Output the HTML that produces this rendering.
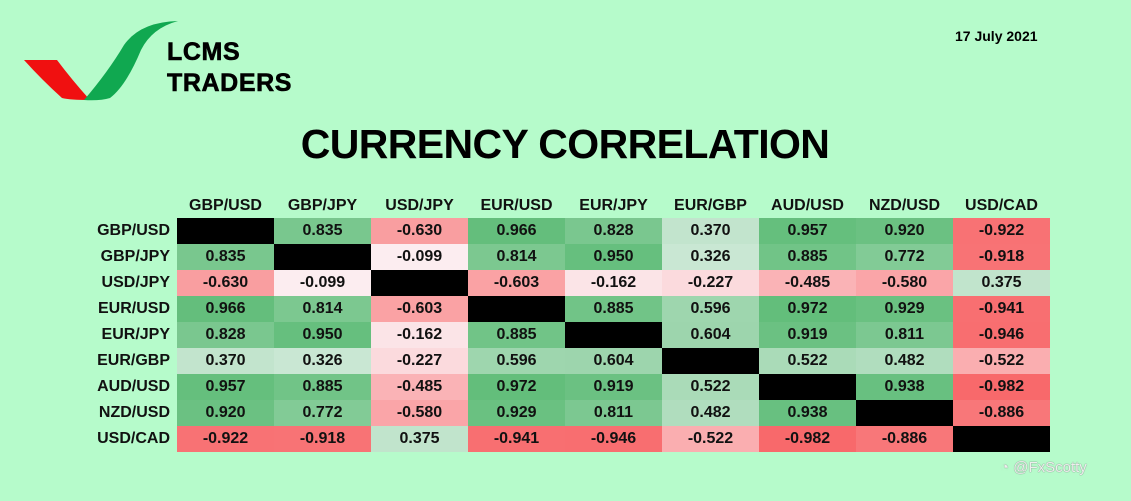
<!DOCTYPE html>
<html><head><meta charset="utf-8"><style>
body{margin:0;width:1131px;height:501px;background:#b6fbcb;font-family:"Liberation Sans",Arial,sans-serif;position:relative;overflow:hidden}
.abs{position:absolute}
.cell{position:absolute;width:97px;height:26px;line-height:26px;text-align:center;font-weight:bold;font-size:16px;color:#111}
.hdr{position:absolute;width:97px;text-align:center;font-weight:bold;font-size:16px;top:197px;color:#111}
.rl{position:absolute;width:160px;left:10px;text-align:right;font-weight:bold;font-size:16px;height:26px;line-height:26px;color:#111}
</style></head><body>
<svg class="abs" style="left:0;top:0" width="180" height="110">
<path d="M24 60 L57 60 Q72 80 90 100 Q70 100 62 98 Q42 80 24 60Z" fill="#f01010"/>
<path d="M84 100 Q108 72 124 45 Q140 22 178 21 Q152 28 141 50 Q126 86 110 98 Q100 101 84 100Z" fill="#10a850"/>
</svg>
<div class="abs" style="left:167px;top:37px;font-weight:bold;font-size:25px;line-height:31px;letter-spacing:0.6px;color:#000;-webkit-text-stroke:0.6px #000">LCMS<br>TRADERS</div>
<div class="abs" style="left:955px;top:28px;font-weight:bold;font-size:14px">17 July 2021</div>
<div class="abs" style="left:265px;width:600px;text-align:center;top:121px;font-weight:bold;font-size:41px;letter-spacing:-0.6px">CURRENCY CORRELATION</div>
<div class="abs" style="left:1000px;top:459px;font-size:15px;color:#eee;text-shadow:0 0 1px #555">◔ @FxScotty</div>
<div id="grid"></div>
<script>
const pairs=["GBP/USD","GBP/JPY","USD/JPY","EUR/USD","EUR/JPY","EUR/GBP","AUD/USD","NZD/USD","USD/CAD"];
const row0=[null,0.835,-0.630,0.966,0.828,0.370,0.957,0.920,-0.922];
const row1=[0.835,null,-0.099,0.814,0.950,0.326,0.885,0.772,-0.918];
const row2=[-0.630,-0.099,null,-0.603,-0.162,-0.227,-0.485,-0.580,0.375];
const row3=[0.966,0.814,-0.603,null,0.885,0.596,0.972,0.929,-0.941];
const row4=[0.828,0.950,-0.162,0.885,null,0.604,0.919,0.811,-0.946];
const row5=[0.370,0.326,-0.227,0.596,0.604,null,0.522,0.482,-0.522];
const row6=[0.957,0.885,-0.485,0.972,0.919,0.522,null,0.938,-0.982];
const row7=[0.920,0.772,-0.580,0.929,0.811,0.482,0.938,null,-0.886];
const row8=[-0.922,-0.918,0.375,-0.941,-0.946,-0.522,-0.982,-0.886,null];
const rows=[row0,row1,row2,row3,row4,row5,row6,row7,row8];
const x0=177,y0=218,cw=97,ch=26,vmin=-0.982,vmax=0.972;
function colorOf(v){
  let a,b,t;
  if(v>=0){a=[252,252,255];b=[99,190,123];t=v/vmax;}
  else{a=[252,252,255];b=[248,105,107];t=v/vmin;}
  const c=a.map((s,i)=>Math.round(s+(b[i]-s)*t));
  return `rgb(${c.join(',')})`;
}
const g=document.getElementById('grid');
pairs.forEach((p,i)=>{
  const h=document.createElement('div');h.className='hdr';h.style.left=(x0+i*cw)+'px';h.textContent=p;
  
  
  g.appendChild(h);
  const r=document.createElement('div');r.className='rl';r.style.top=(y0+i*ch)+'px';r.textContent=p;
  
  
  g.appendChild(r);
});
rows.forEach((row,i)=>row.forEach((v,j)=>{
  const c=document.createElement('div');c.className='cell';
  c.style.left=(x0+j*cw)+'px';c.style.top=(y0+i*ch)+'px';
  if(v===null){c.style.background='#000';}
  else{c.style.background=colorOf(v);c.textContent=v.toFixed(3);}
  
  
  g.appendChild(c);
}));
</script>
</body></html>
